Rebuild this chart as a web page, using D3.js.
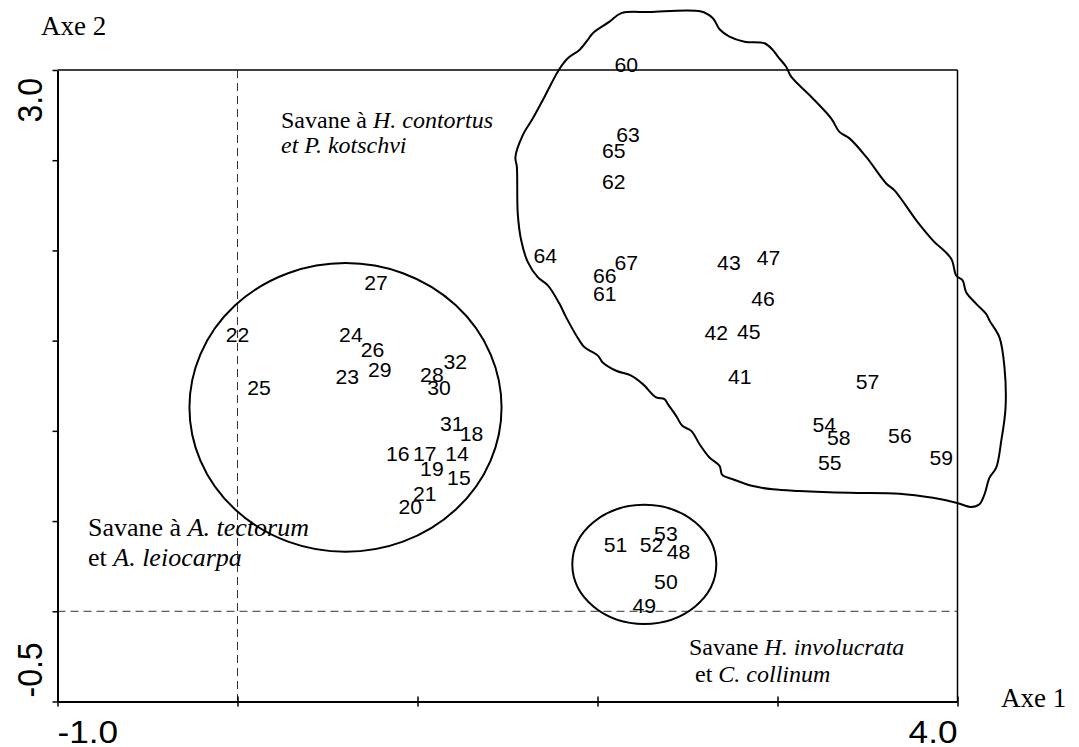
<!DOCTYPE html>
<html><head><meta charset="utf-8">
<script src="https://cdn.jsdelivr.net/npm/d3@7"></script>
<style>body{margin:0;background:#fff}</style>
</head><body><svg id="c" width="1079" height="747"></svg>
<script>
// ---- data ----
const pointIds = [14,15,16,17,18,19,20,21,22,23,24,25,26,27,28,29,30,31,32,
  41,42,43,45,46,47,48,49,50,51,52,53,54,55,56,57,58,59,60,61,62,63,64,65,66,67];
const axis1 = [1.22,1.23,0.89,1.04,1.30,1.08,0.96,1.04,0.00,0.61,0.63,0.12,0.75,0.77,1.08,0.79,1.12,1.19,1.21,
  2.79,2.66,2.73,2.84,2.92,2.95,2.45,2.26,2.38,2.10,2.30,2.38,3.26,3.29,3.68,3.50,3.34,3.91,2.16,2.04,2.09,2.17,1.71,2.09,2.04,2.16];
const axis2 = [0.87,0.74,0.87,0.87,0.98,0.79,0.58,0.65,1.53,1.30,1.53,1.24,1.45,1.82,1.31,1.34,1.24,1.04,1.38,
  1.30,1.54,1.93,1.55,1.73,1.96,0.33,0.03,0.16,0.37,0.37,0.43,1.03,0.82,0.97,1.27,0.96,0.85,3.03,1.76,2.38,2.64,1.97,2.55,1.86,1.93];

const xTicks = [-1,0,1,2,3,4];
const yTicks = [-0.5,0,0.5,1,1.5,2,2.5,3];
const xTickLabels = ["-1.0","4.0"];
const yTickLabels = ["3.0","-0.5"];

// groups: ellipses (centre x, centre y, radius x, radius y) in axis units
const ellipseCx = [0.60, 2.26];
const ellipseCy = [1.13, 0.26];
const ellipseRx = [0.867, 0.40];
const ellipseRy = [0.80, 0.33];

// hand-drawn contour of the third group
const outlineX = [1.544,1.585,1.641,1.706,1.785,1.835,1.900,1.946,1.974,2.067,2.132,2.289,2.576,2.641,2.678,2.733,2.817,2.928,2.974,3.002,
  3.048,3.076,3.187,3.298,3.344,3.400,3.493,3.604,3.650,3.771,3.863,3.965,3.993,4.029,4.048,4.104,4.159,4.178,4.233,4.261,
  4.267,4.243,4.215,4.178,4.150,4.122,4.076,3.993,3.863,3.678,3.400,3.122,2.974,2.863,2.752,2.693,2.678,2.622,2.567,2.521,
  2.471,2.437,2.391,2.372,2.326,2.252,2.187,2.104,2.029,2.002,1.928,1.900,1.826,1.789,1.724,1.668,1.613,1.576,1.557,1.552];
const outlineY = [2.518,2.639,2.732,2.852,3.000,3.065,3.111,3.167,3.204,3.268,3.315,3.321,3.324,3.287,3.226,3.185,3.157,3.148,3.111,3.074,
  3.018,2.963,2.852,2.732,2.657,2.621,2.518,2.371,2.333,2.167,2.056,1.954,1.861,1.833,1.768,1.704,1.648,1.611,1.518,1.352,
  1.129,0.944,0.796,0.741,0.648,0.593,0.578,0.602,0.629,0.652,0.657,0.667,0.676,0.694,0.732,0.756,0.806,0.852,0.926,1.000,
  1.028,1.083,1.148,1.176,1.185,1.259,1.306,1.333,1.379,1.417,1.463,1.500,1.629,1.704,1.806,1.852,1.935,2.056,2.204,2.463];

// ---- chart ----
const svg = d3.select('#c');
svg.append('rect').attr('width',1079).attr('height',747).attr('fill','#fff');
const x = d3.scaleLinear().domain([-1,4]).range([57.5,957.5]);
const y = d3.scaleLinear().domain([-0.5,3]).range([701.5,70]);

// dashed reference lines
svg.append('line').attr('x1',x(0)).attr('x2',x(0)).attr('y1',y(3)).attr('y2',y(-0.5))
  .attr('stroke','#333').attr('stroke-width',1).attr('stroke-dasharray','8,5');
svg.append('line').attr('x1',x(-1)).attr('x2',x(4)).attr('y1',y(0)).attr('y2',y(0))
  .attr('stroke','#333').attr('stroke-width',1).attr('stroke-dasharray','8,5');

// top and right frame
svg.append('line').attr('x1',x(-1)).attr('x2',x(4)).attr('y1',y(3)).attr('y2',y(3))
  .attr('stroke','#000').attr('stroke-width',1.5);
svg.append('line').attr('x1',x(4)).attr('x2',x(4)).attr('y1',y(3)).attr('y2',y(-0.5))
  .attr('stroke','#000').attr('stroke-width',1.5);

// axes
const gy = svg.append('g').attr('transform',`translate(${x(-1)},0)`)
  .call(d3.axisLeft(y).tickValues(yTicks).tickSize(5).tickSizeOuter(0).tickFormat(''));
const gx = svg.append('g').attr('transform',`translate(0,${y(-0.5)})`)
  .call(d3.axisBottom(x).tickValues(xTicks).tickSize(5).tickSizeOuter(0).tickFormat(''));
gx.selectAll('.tick line').attr('y1',-5);
[gx,gy].forEach(g=>{
  g.select('.domain').attr('stroke','#000').attr('stroke-width',2);
  g.selectAll('.tick line').attr('stroke','#000').attr('stroke-width',1.5);
});

// tick labels
const tickFont = 'Liberation Sans, Arial, sans-serif';
svg.append('text').text(xTickLabels[0]).attr('font-family',tickFont).attr('font-size',32)
  .attr('text-anchor','start').attr('transform',`translate(${x(-1)},743) scale(1.1,1)`);
svg.append('text').text(xTickLabels[1]).attr('font-family',tickFont).attr('font-size',32)
  .attr('text-anchor','end').attr('transform',`translate(${x(4)},743) scale(1.1,1)`);
svg.append('text').text(yTickLabels[0]).attr('font-family',tickFont).attr('font-size',32)
  .attr('text-anchor','end').attr('transform',`translate(42,${y(3)+8}) rotate(-90) scale(1,1.12)`);
svg.append('text').text(yTickLabels[1]).attr('font-family',tickFont).attr('font-size',32)
  .attr('text-anchor','start').attr('transform',`translate(42,${y(-0.5)-4}) rotate(-90) scale(1,1.12)`);

// ellipses
svg.selectAll('ellipse.grp').data(ellipseCx.map((c,i)=>i)).join('ellipse')
  .attr('cx',i=>x(ellipseCx[i])).attr('cy',i=>y(ellipseCy[i]))
  .attr('rx',i=>x(ellipseCx[i]+ellipseRx[i])-x(ellipseCx[i]))
  .attr('ry',i=>y(ellipseCy[i]-ellipseRy[i])-y(ellipseCy[i]))
  .attr('fill','none').attr('stroke','#000').attr('stroke-width',2);

// contour
const pts = outlineX.map((v,i)=>[v,outlineY[i]]);
svg.append('path').datum(pts)
  .attr('d', d3.line().x(d=>x(d[0])).y(d=>y(d[1])).curve(d3.curveCatmullRomClosed.alpha(0.5)))
  .attr('fill','none').attr('stroke','#000').attr('stroke-width',2);

// point labels
svg.selectAll('text.pt').data(pointIds.map((id,i)=>i)).join('text').attr('class','pt')
  .text(i=>pointIds[i])
  .attr('font-family',tickFont).attr('font-size',20).attr('text-anchor','middle')
  .attr('transform',i=>`translate(${x(axis1[i])},${y(axis2[i])+7}) scale(1.06,1)`);

// serif annotations
const serif = 'Liberation Serif, Times New Roman, serif';
function note(x0, y0, size, lh, lines){
  const t = svg.append('text').attr('font-family',serif).attr('font-size',size);
  lines.forEach((parts,li)=>{
    parts.forEach((p,pi)=>{
      const ts = t.append('tspan').text(p[0]).attr('font-style',p[1]?'italic':'normal');
      if(pi===0) ts.attr('x',x0).attr('y',y0+li*lh);
    });
  });
}
note(41, 35, 27, 0, [[["Axe 2",false]]]);
note(1001, 707, 27, 0, [[["Axe 1",false]]]);
note(281, 128, 24, 25, [[["Savane à ",false],["H. contortus",true]],[["et P. kotschvi",true]]]);
note(88, 536, 26, 30, [[["Savane à ",false],["A. tectorum",true]],[["et ",false],["A. leiocarpa",true]]]);
note(689, 655, 24, 27, [[["Savane ",false],["H. involucrata",true]],[[" et ",false],["C. collinum",true]]]);
</script>
</body></html>
